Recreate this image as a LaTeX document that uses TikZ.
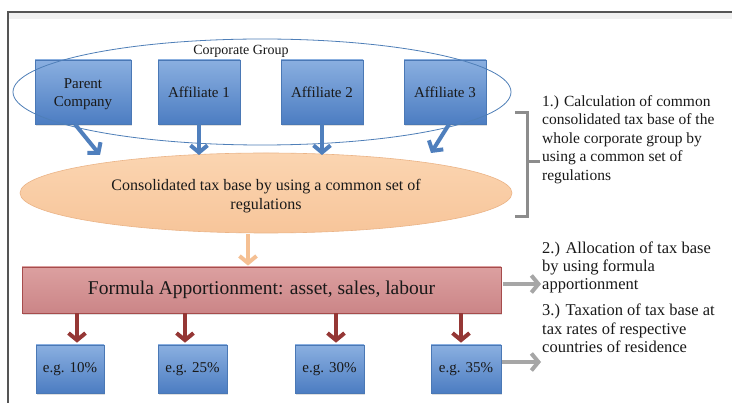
\documentclass[tikz,border=0pt]{standalone}
\usepackage{fontspec}
\setmainfont{Liberation Serif}
\usetikzlibrary{arrows.meta,shapes.geometric,calc,shadows}
\definecolor{boxtop}{HTML}{8AAFE0}
\definecolor{boxbot}{HTML}{4C7DC2}
\definecolor{boxline}{HTML}{4A78B5}
\definecolor{grpline}{HTML}{4F7FB8}
\definecolor{arrblue}{HTML}{4F7FBD}
\definecolor{constop}{HTML}{FBD5B1}
\definecolor{consbot}{HTML}{F7C59A}
\definecolor{consline}{HTML}{EBB487}
\definecolor{fatop}{HTML}{DCA0A0}
\definecolor{fabot}{HTML}{CB8587}
\definecolor{faline}{HTML}{A64C4C}
\definecolor{arrred}{HTML}{953735}
\definecolor{arrgray}{HTML}{A6A6A6}
\definecolor{arrorange}{HTML}{F5C093}
\definecolor{framec}{HTML}{555555}
\definecolor{bracketc}{HTML}{8C8C8C}
\tikzset{
  shadowed/.style={drop shadow={opacity=0.25, shadow xshift=1pt, shadow yshift=-2pt}},
  bluebox/.style={rectangle, top color=boxtop, bottom color=boxbot, draw=boxline,
    line width=0.6pt, inner sep=0pt, align=center, text=black!90,
    font=\fontsize{15}{18.5}\selectfont, shadowed},
  consnode/.style={ellipse, top color=constop, bottom color=consbot, draw=consline,
    line width=0.6pt, inner sep=0pt, align=center, text=black!90,
    font=\fontsize{16}{19.5}\selectfont},
  fanode/.style={rectangle, top color=fatop, bottom color=fabot, draw=faline,
    line width=0.8pt, inner sep=0pt, text=black!90,
    font=\fontsize{19.5}{22}\selectfont, shadowed},
  groupnode/.style={ellipse, draw=grpline, line width=0.8pt, inner sep=0pt},
  sidetext/.style={anchor=north west, inner sep=0pt, align=left, text=black!90},
  arrowhd/.style={-{Straight Barb[length=7pt,width=17pt]}},
  bluearrow/.style={draw=arrblue, line width=4pt, arrowhd},
  redarrow/.style={draw=arrred, line width=4pt, arrowhd},
  grayarrow/.style={draw=arrgray, line width=4pt, arrowhd},
  orangearrow/.style={draw=arrorange, line width=4pt, arrowhd},
}
\begin{document}
\begin{tikzpicture}[x=1pt,y=-1pt]
\useasboundingbox (0,0) rectangle (732,403);
\fill[white] (0,0) rectangle (732,403);
% frame
\fill[black!6] (9,13) rectangle (732,19);
\draw[framec, line width=2.2pt] (732,12) -- (8,12) -- (8,403);
% top boxes
\node[bluebox, minimum width=96pt, minimum height=64pt] (parent) at (83,92) {\rule{0pt}{14pt}Parent\\Company};
\node[bluebox, minimum width=82pt, minimum height=64pt] (aff1) at (199,92) {Affiliate 1};
\node[bluebox, minimum width=82pt, minimum height=64pt] (aff2) at (322,92) {Affiliate 2};
\node[bluebox, minimum width=82pt, minimum height=64pt] (aff3) at (445,92) {Affiliate 3};
% group ellipse
\node[groupnode, minimum width=498pt, minimum height=106pt] (group) at (262,92) {};
\node[inner sep=0pt, font=\fontsize{14}{16}\selectfont, text=black!90] (grouplbl) at (241,51) {Corporate Group};
% consolidated ellipse
\node[consnode, minimum width=492pt, minimum height=80pt] (cons) at (266,193)
  {\rule{0pt}{17pt}Consolidated tax base by using a common set of\\regulations};
% arrow tips
\coordinate (tp) at (100,155);
\coordinate (t1) at (199,155);
\coordinate (t2) at (322,155);
\coordinate (t3) at (431,153);
\draw[bluearrow] ($(parent.south)+(-8,0)$) -- (tp);
\draw[bluearrow] (aff1.south) -- (t1);
\draw[bluearrow] (aff2.south) -- (t2);
\draw[bluearrow] ($(aff3.south)+(4,0)$) -- (t3);
% formula apportionment
\node[fanode, minimum width=479pt, minimum height=46pt] (fa) at (261.5,290)
  {Formula Apportionment: asset, sales, labour};
\draw[orangearrow] ($(cons.south)+(-18,1)$) -- ($(fa.north)+(-13.5,-1)$);
% bottom boxes
\node[bluebox, minimum width=68pt, minimum height=48pt] (b1) at (70,369) {e.g. 10\%};
\node[bluebox, minimum width=69pt, minimum height=48pt] (b2) at (192.5,369) {e.g. 25\%};
\node[bluebox, minimum width=69pt, minimum height=48pt] (b3) at (329.5,369) {e.g. 30\%};
\node[bluebox, minimum width=70pt, minimum height=48pt] (b4) at (466,369) {e.g. 35\%};
\draw[redarrow] ($(fa.south)+(-184.5,0)$) -- ($(b1.north)+(7,-2)$);
\draw[redarrow] ($(fa.south)+(-76.5,0)$) -- ($(b2.north)+(-7.5,-2)$);
\draw[redarrow] ($(fa.south)+(74.5,0)$) -- ($(b3.north)+(6.5,-2)$);
\draw[redarrow] ($(fa.south)+(199.5,0)$) -- ($(b4.north)+(-5,-2)$);
% bracket
\draw[bracketc, line width=3pt] (515,113) -- (527,113) -- (527,217) -- (515,217);
\draw[bracketc, line width=3pt] (527,162) -- (540,162);
% gray arrows
\coordinate (g1) at (541,284);
\coordinate (g2) at (541,362);
\draw[grayarrow] ($(fa.east)+(2,-6)$) -- (g1);
\draw[grayarrow] ($(b4.east)+(1,-7)$) -- (g2);
% side texts
\node[sidetext, font=\fontsize{15.5}{18.5}\selectfont] (txt1) at (542,95)
  {1.) Calculation of common\\consolidated tax base of the\\whole corporate group by\\using a common set of\\regulations};
\node[sidetext, font=\fontsize{16.5}{18}\selectfont] (txt2) at (542,242)
  {2.) Allocation of tax base\\by using formula\\apportionment};
\node[sidetext, font=\fontsize{16.5}{18.5}\selectfont] (txt3) at (542,304)
  {3.) Taxation of tax base at\\tax rates of respective\\countries of residence};
\end{tikzpicture}
\end{document}
